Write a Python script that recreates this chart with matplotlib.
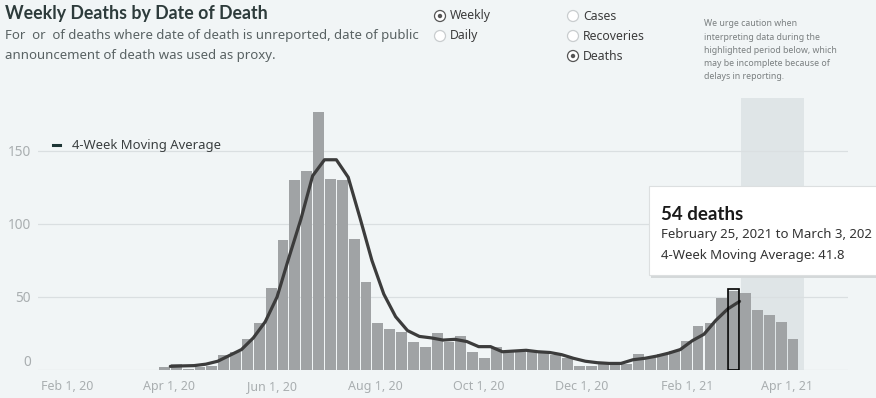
import matplotlib
matplotlib.use('Agg')
import matplotlib.pyplot as plt
import matplotlib.dates as mdates
import matplotlib.patches as mpatches
from matplotlib.transforms import IdentityTransform
from matplotlib.lines import Line2D
import numpy as np
import pandas as pd

plt.rcParams['font.family'] = ['Noto Sans', 'DejaVu Sans']
BOLD = ['Lato', 'DejaVu Sans']

# weekly bins start on Thursdays
weeks = pd.date_range('2020-03-26', periods=54, freq='7D')
deaths = [2, 4, 1, 2, 3, 10, 12, 21, 32, 56,
          89, 130, 136, 177, 131, 130, 90, 60, 32, 28,
          26, 19, 16, 25, 19, 23, 12, 8, 16, 12,
          12, 13, 12, 10, 8, 3, 3, 4, 5, 4,
          11, 8, 11, 13, 20, 30, 32, 49, 54, 53,
          41, 38, 33, 21]
# 4-week moving average, Apr 2 2020 .. Mar 4 2021
avg_weeks = weeks[1:50]
moving_avg = [2.5, 2.8, 3, 4, 6, 10, 14, 22, 33, 50,
              77, 103, 133, 144, 144, 132, 104, 75, 52, 36.5,
              27, 23, 22, 20.5, 21, 19.5, 16, 16, 12.5, 13,
              13.5, 12.5, 12, 10.5, 8, 6, 5, 4.5, 4.5, 7,
              8, 9.5, 11.5, 14, 20, 24.5, 34, 41.8, 47]
yticks = [0, 50, 100, 150]
xtick_dates = ['2020-02-01', '2020-04-01', '2020-06-01', '2020-08-01', '2020-10-01',
               '2020-12-01', '2021-02-01', '2021-04-01']
xtick_labels = ['Feb 1, 20', 'Apr 1, 20', 'Jun 1, 20', 'Aug 1, 20', 'Oct 1, 20',
                'Dec 1, 20', 'Feb 1, 21', 'Apr 1, 21']
hl_week = 48  # Feb 25, 2021
caution_start, caution_end = '2021-03-05', '2021-04-11'

W, H = 876, 398
bg = '#f1f5f6'
fig = plt.figure(figsize=(W / 100, H / 100), dpi=100, facecolor=bg)
ax = fig.add_axes([38 / W, 28 / H, (848 - 38) / W, (370 - 98) / H], facecolor=bg)

x0 = mdates.date2num(pd.Timestamp('2020-02-01'))
ax.set_xlim(x0 - 17.1, x0 + 461)
ax.set_ylim(0, 186.3)

ax.axvspan(pd.Timestamp(caution_start), pd.Timestamp(caution_end), color='#dfe5e7', zorder=0, lw=0)
ax.set_yticks(yticks)
ax.grid(axis='y', color='#dadfe1', lw=0.9, zorder=0.5)
ax.set_axisbelow(True)

bar_x = mdates.date2num(weeks) + 0.3
ax.bar(bar_x, deaths, width=6.4, align='edge', color='#a0a3a5', lw=0, zorder=2)
ax.bar(bar_x[hl_week] - 0.2, deaths[hl_week] + 1.2, width=6.8, align='edge',
       facecolor='none', edgecolor='black', lw=1.2, zorder=4)
ax.plot(avg_weeks, moving_avg, color='#3c3c3c', lw=2.3, solid_joinstyle='round',
        solid_capstyle='round', zorder=3)

for s in ax.spines.values():
    s.set_visible(False)
ax.tick_params(length=0, colors='#a9aeb0')
ax.set_xticks([pd.Timestamp(d) for d in xtick_dates])
ax.set_xticklabels(xtick_labels)
ax.tick_params(axis='x', pad=7, labelsize=9)
ax.tick_params(axis='y', pad=5, labelsize=9.8)
ax.yaxis.get_major_ticks()[0].label1.set_va('bottom')

leg = ax.legend([Line2D([], [], color='#1d3535', lw=2.2)], ['4-Week Moving Average'],
                loc='center left', bbox_to_anchor=(53 / W, 1 - 146 / H),
                bbox_transform=fig.transFigure, frameon=False, handlelength=0.5,
                handletextpad=0.95, borderpad=0, borderaxespad=0, fontsize=9.4)
for t in leg.get_texts():
    t.set_color('#3a3f40')

# header
fig.text(5 / W, 1 - 13 / H, 'Weekly Deaths by Date of Death', fontsize=12.8,
         fontweight='bold', family=BOLD, color='#2d3b3b', va='center')
fig.text(5 / W, 1 - 36 / H, 'For  or  of deaths where date of death is unreported, date of public',
         fontsize=9.5, color='#596263', va='center')
fig.text(5 / W, 1 - 55 / H, 'announcement of death was used as proxy.',
         fontsize=9.5, color='#596263', va='center')

radios = [(440, 16, 'Weekly', True), (440, 36, 'Daily', False),
          (573, 16, 'Cases', False), (573, 36, 'Recoveries', False), (573, 56, 'Deaths', True)]
for cx, cy, label, on in radios:
    fig.add_artist(mpatches.Circle((cx, H - cy), 5.5, transform=IdentityTransform(),
                                   facecolor='white', edgecolor='#555555' if on else '#c9cdcf', lw=0.9))
    if on:
        fig.add_artist(mpatches.Circle((cx, H - cy), 2.2, transform=IdentityTransform(),
                                       facecolor='#555555', lw=0))
    fig.text((cx + 10) / W, 1 - cy / H, label, fontsize=8.8, color='#3c3c3c', va='center')

note = ['We urge caution when', 'interpreting data during the', 'highlighted period below, which',
        'may be incomplete because of', 'delays in reporting.']
for i, line in enumerate(note):
    fig.text(704 / W, 1 - (23.7 + 13.3 * i) / H, line, fontsize=6.3, color='#7a7f80', va='center')

# tooltip (the box runs off the right edge, as in the screenshot)
fig.add_artist(mpatches.Rectangle((651, H - 278), 240, 90, transform=IdentityTransform(),
                                  facecolor='#d4d8d9', lw=0, zorder=5))
fig.add_artist(mpatches.Rectangle((649, H - 275), 240, 89, transform=IdentityTransform(),
                                  facecolor='white', edgecolor='#dcdfe0', lw=0.8, zorder=6))
fig.text(661 / W, 1 - 214 / H, '%d deaths' % deaths[hl_week], fontsize=13.5, fontweight='bold',
         family=BOLD, color='#1a1a1a', va='center', zorder=7)
fig.text(661 / W, 1 - 235 / H, 'February 25, 2021 to March 3, 202', fontsize=9.5,
         color='#333333', va='center', zorder=7)
fig.text(661 / W, 1 - 255 / H, '4-Week Moving Average: %.1f' % moving_avg[hl_week - 1], fontsize=9.5,
         color='#333333', va='center', zorder=7)

fig.savefig('out.png', dpi=100, facecolor=bg)
